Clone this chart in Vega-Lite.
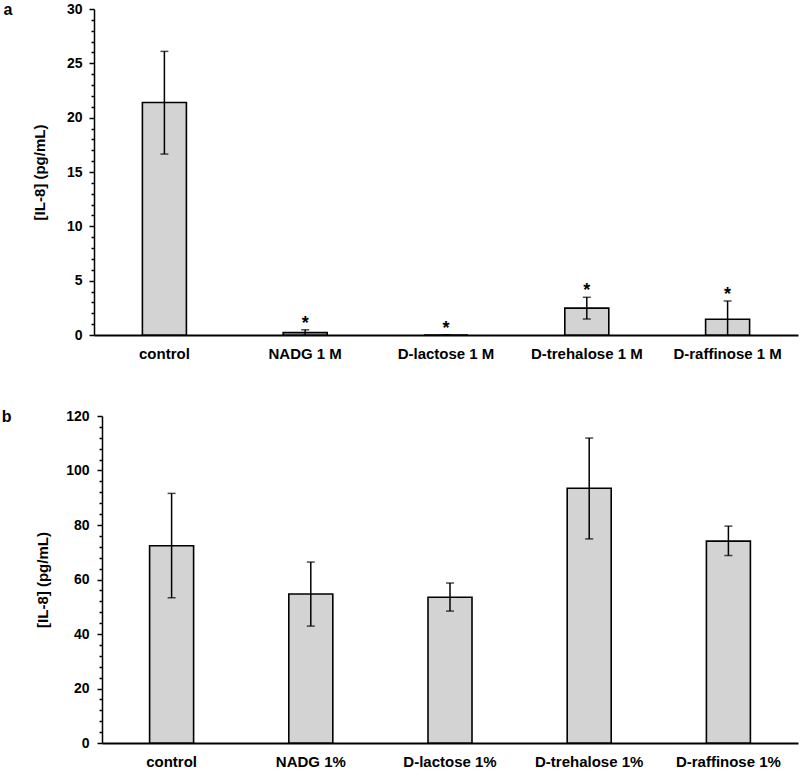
{
  "$schema": "https://vega.github.io/schema/vega-lite/v6.json",
  "padding": {"left": 1, "top": 2, "right": 2, "bottom": 2},
  "background": "white",
  "align": "none",
  "spacing": 48,
  "config": {
    "font": "Liberation Sans",
    "view": {"stroke": null},
    "axis": {
      "domainColor": "black",
      "tickColor": "black",
      "labelColor": "black",
      "titleColor": "black",
      "labelFont": "Liberation Sans",
      "titleFont": "Liberation Sans",
      "labelFontWeight": "bold",
      "titleFontWeight": "bold",
      "grid": false
    },
    "axisY": {"labelOverlap": false, "labelBound": false},
    "title": {"font": "Liberation Sans", "fontWeight": "bold", "fontSize": 16, "color": "black"}
  },
  "datasets": {
    "a": [
      {"group": "control", "mean": 21.4, "lo": 16.65, "hi": 26.1, "sig": ""},
      {"group": "NADG 1 M", "mean": 0.22, "lo": -0.04, "hi": 0.48, "sig": "*"},
      {"group": "D-lactose 1 M", "mean": 0, "lo": 0, "hi": 0, "sig": "*"},
      {"group": "D-trehalose 1 M", "mean": 2.47, "lo": 1.47, "hi": 3.47, "sig": "*"},
      {"group": "D-raffinose 1 M", "mean": 1.45, "lo": -0.23, "hi": 3.13, "sig": "*"}
    ],
    "b": [
      {"group": "control", "mean": 72.4, "lo": 53.3, "hi": 91.6},
      {"group": "NADG 1%", "mean": 54.7, "lo": 42.9, "hi": 66.4},
      {"group": "D-lactose 1%", "mean": 53.5, "lo": 48.4, "hi": 58.7},
      {"group": "D-trehalose 1%", "mean": 93.5, "lo": 74.9, "hi": 111.9},
      {"group": "D-raffinose 1%", "mean": 74.1, "lo": 68.8, "hi": 79.6}
    ]
  },
  "vconcat": [
    {
      "width": 704,
      "height": 326,
      "title": {"text": "a", "anchor": "start", "frame": "bounds", "dx": -29, "dy": 20},
      "data": {"name": "a"},
      "encoding": {
        "x": {
          "field": "group", "type": "nominal", "sort": null,
          "scale": {"paddingInner": 0.5, "paddingOuter": 0.25},
          "axis": {"title": null, "labelAngle": 0, "ticks": false, "domainWidth": 2, "labelPadding": 11, "labelFontSize": 15}
        }
      },
      "layer": [
        {
          "mark": {"type": "bar", "size": 44, "fill": "#d3d3d3", "stroke": "black", "strokeWidth": 1.6},
          "encoding": {
            "y": {
              "field": "mean", "type": "quantitative",
              "scale": {"domain": [0, 30], "nice": false},
              "axis": {
                "title": "[IL-8] (pg/mL)", "titleFontSize": 15, "titlePadding": 19,
                "values": [0,1,2,3,4,5,6,7,8,9,10,11,12,13,14,15,16,17,18,19,20,21,22,23,24,25,26,27,28,29,30],
                "tickCount": 40,
                "labelExpr": "datum.value % 5 === 0 ? datum.label : ''",
                "labelOverlap": false,
                "labelFontSize": 14, "labelPadding": 7,
                "domainWidth": 1.5, "tickWidth": 1.5,
                "tickSize": {"condition": {"test": "datum.value % 5 === 0", "value": 5}, "value": 3}
              }
            }
          }
        },
        {
          "mark": {"type": "rule", "color": "black", "strokeWidth": 1.5, "clip": true},
          "encoding": {"y": {"field": "lo", "type": "quantitative"}, "y2": {"field": "hi"}}
        },
        {
          "mark": {"type": "tick", "color": "black", "size": 8, "thickness": 1.5, "clip": true},
          "encoding": {"y": {"field": "hi", "type": "quantitative"}}
        },
        {
          "mark": {"type": "tick", "color": "black", "size": 8, "thickness": 1.5, "clip": true},
          "encoding": {"y": {"field": "lo", "type": "quantitative"}}
        },
        {
          "mark": {"type": "text", "fontSize": 18, "fontWeight": "bold", "color": "black", "baseline": "alphabetic", "dy": -1},
          "encoding": {"y": {"field": "hi", "type": "quantitative"}, "text": {"field": "sig"}}
        }
      ]
    },
    {
      "width": 704,
      "height": 327,
      "title": {"text": "b", "anchor": "start", "frame": "bounds", "dx": -34, "dy": 20},
      "data": {"name": "b"},
      "encoding": {
        "x": {
          "field": "group", "type": "nominal", "sort": null,
          "scale": {"paddingInner": 0.5, "paddingOuter": 0.25, "range": [8, 704]},
          "axis": {"title": null, "labelAngle": 0, "ticks": false, "domainWidth": 2, "labelPadding": 11, "labelFontSize": 15}
        }
      },
      "layer": [
        {
          "mark": {"type": "bar", "size": 44, "fill": "#d3d3d3", "stroke": "black", "strokeWidth": 1.6},
          "encoding": {
            "y": {
              "field": "mean", "type": "quantitative",
              "scale": {"domain": [0, 120], "nice": false},
              "axis": {
                "title": "[IL-8] (pg/mL)", "titleFontSize": 15, "titlePadding": 15,
                "offset": -8,
                "values": [0,4,8,12,16,20,24,28,32,36,40,44,48,52,56,60,64,68,72,76,80,84,88,92,96,100,104,108,112,116,120],
                "tickCount": 40,
                "labelExpr": "datum.value % 20 === 0 ? datum.label : ''",
                "labelOverlap": false,
                "labelFontSize": 14, "labelPadding": 8,
                "domainWidth": 1.5, "tickWidth": 1.5,
                "tickSize": {"condition": {"test": "datum.value % 20 === 0", "value": 5}, "value": 3}
              }
            }
          }
        },
        {
          "mark": {"type": "rule", "color": "black", "strokeWidth": 1.5, "clip": true},
          "encoding": {"y": {"field": "lo", "type": "quantitative"}, "y2": {"field": "hi"}}
        },
        {
          "mark": {"type": "tick", "color": "black", "size": 8, "thickness": 1.5, "clip": true},
          "encoding": {"y": {"field": "hi", "type": "quantitative"}}
        },
        {
          "mark": {"type": "tick", "color": "black", "size": 8, "thickness": 1.5, "clip": true},
          "encoding": {"y": {"field": "lo", "type": "quantitative"}}
        }
      ]
    }
  ]
}
